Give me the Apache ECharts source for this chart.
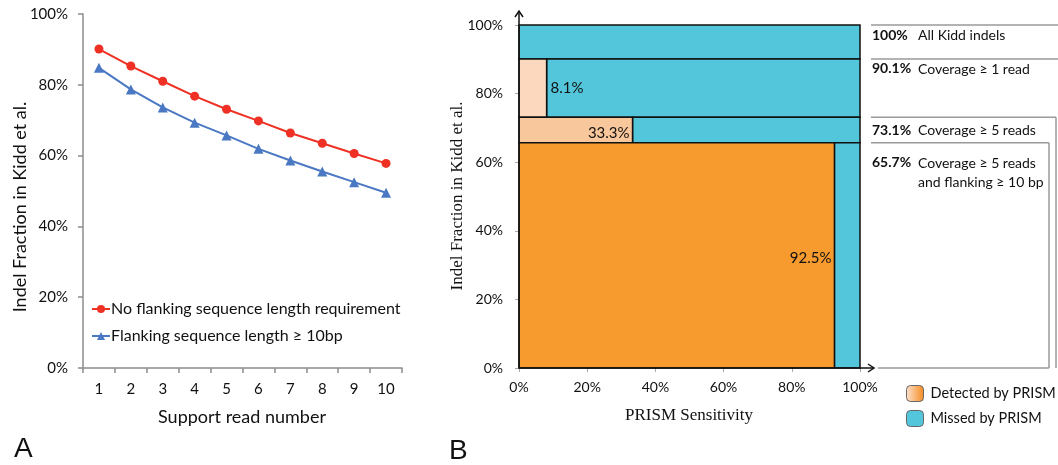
<!DOCTYPE html>
<html><head><meta charset="utf-8">
<script src="https://cdn.jsdelivr.net/npm/echarts@6/dist/echarts.min.js"></script>
<style>html,body{margin:0;padding:0;background:#fff}#c{width:1058px;height:465px}</style>
</head><body><div id="c"></div>
<script>
// ---- Panel A data ----
const readNumbers = ['1','2','3','4','5','6','7','8','9','10'];
const noFlanking = [90.1, 85.3, 81.0, 76.8, 73.1, 69.8, 66.4, 63.5, 60.6, 57.8];
const flanking10 = [84.8, 78.7, 73.6, 69.3, 65.7, 61.9, 58.6, 55.5, 52.5, 49.5];
const seriesNames = ['No flanking sequence length requirement', 'Flanking sequence length \u2265 10bp'];

// ---- Panel B data ----
const bandTop = [100, 90.1, 73.1, 65.7];
const bandBottom = [90.1, 73.1, 65.7, 0];
const sensitivity = [0, 8.1, 33.3, 92.5];
const sensLabels = ['', '8.1%', '33.3%', '92.5%'];
const setPct = ['100%', '90.1%', '73.1%', '65.7%'];
const setDesc = ['All Kidd indels', 'Coverage \u2265 1 read', 'Coverage \u2265 5 reads', 'Coverage \u2265 5 reads\nand flanking \u2265 10 bp'];
const legendNamesB = ['Detected by PRISM', 'Missed by PRISM'];

// ---- styles ----
const SANS = 'Lato, "Open Sans", sans-serif';
const SERIF = '"Liberation Serif", "DejaVu Serif", serif';
const CYAN = '#53C6DB';
const detectedFill = ['#FCD9BE', '#FCD9BE', '#F9C79C', '#F79B2E'];
const annGap = [10, 10, 13, 20];
const GRAY = '#9a9a9a';

const bandData = bandTop.map((t, i) => [sensitivity[i], t, bandBottom[i], i]);

const chart = echarts.init(document.getElementById('c'));

function detectedItem(params, api) {
  const s = api.value(0), t = api.value(1), b = api.value(2), i = api.value(3);
  const p0 = api.coord([0, t]), p1 = api.coord([s, b]);
  const children = [];
  if (s > 0) {
    children.push({type: 'rect', shape: {x: p0[0], y: p0[1], width: p1[0] - p0[0], height: p1[1] - p0[1]},
      style: {fill: detectedFill[i], stroke: '#111', lineWidth: 1.5}});
  }
  if (sensLabels[i]) {
    const w = p1[0] - p0[0];
    const inside = w > 60;
    children.push({type: 'text', x: inside ? p1[0] - 3 : p1[0] + 4, y: (p0[1] + p1[1]) / 2 + (inside ? 3 : 0),
      style: {text: sensLabels[i], fill: '#111', fontSize: 15, fontFamily: SANS,
        align: inside ? 'right' : 'left', verticalAlign: 'middle'}, z2: 10});
  }
  return {type: 'group', children};
}

function missedItem(params, api) {
  const s = api.value(0), t = api.value(1), b = api.value(2);
  const p0 = api.coord([s, t]), p1 = api.coord([100, b]);
  return {type: 'rect', shape: {x: p0[0], y: p0[1], width: p1[0] - p0[0], height: p1[1] - p0[1]},
    style: {fill: CYAN, stroke: '#111', lineWidth: 1.5}};
}

function frameItem(params, api) {
  const o = api.coord([0, 0]);
  const top = api.coord([0, 100]);
  const xR = api.coord([100, 0])[0];
  const W = api.getWidth();
  const ch = [];
  const ax = {stroke: '#111', lineWidth: 1.5, fill: null};
  ch.push({type: 'line', shape: {x1: o[0], y1: o[1], x2: o[0], y2: top[1] - 14}, style: ax});
  ch.push({type: 'polyline', shape: {points: [[o[0] - 4, top[1] - 8], [o[0], top[1] - 14], [o[0] + 4, top[1] - 8]]}, style: ax});
  ch.push({type: 'line', shape: {x1: o[0], y1: o[1], x2: xR + 14, y2: o[1]}, style: ax});
  ch.push({type: 'polyline', shape: {points: [[xR + 8, o[1] - 4], [xR + 14, o[1]], [xR + 8, o[1] + 4]]}, style: ax});
  const gs = {stroke: GRAY, lineWidth: 1.5, fill: null};
  bandTop.forEach((t, i) => {
    const y = api.coord([0, t])[1];
    let xEnd = W;
    if (i === 2) xEnd = W - 2;
    if (i === 3) xEnd = W - 9;
    ch.push({type: 'line', shape: {x1: xR + 11, y1: y, x2: xEnd, y2: y}, style: gs});
    if (i >= 2) ch.push({type: 'line', shape: {x1: xEnd, y1: y, x2: xEnd, y2: o[1]}, style: gs});
    const ty = y + annGap[i];
    ch.push({type: 'text', x: xR + 12, y: ty, style: {text: setPct[i], fill: '#111', fontSize: 14, fontWeight: 'bold', fontFamily: SANS, align: 'left', verticalAlign: 'middle'}});
    ch.push({type: 'text', x: xR + 58, y: ty - 9, style: {text: setDesc[i], fill: '#111', fontSize: 14, lineHeight: 19, fontFamily: SANS, align: 'left', verticalAlign: 'top'}});
  });
  ch.push({type: 'line', shape: {x1: xR + 18, y1: o[1], x2: W - 9, y2: o[1]}, style: gs});
  return {type: 'group', children: ch};
}

const detGrad = new echarts.graphic.LinearGradient(0, 0, 1, 0, [{offset: 0, color: '#FDE3CF'}, {offset: 1, color: '#F58A1F'}]);

const option = {
  animation: false,
  backgroundColor: '#fff',
  grid: [
    {left: 83, right: 656, top: 14, bottom: 97},
    {left: 519, right: 198, top: 25, bottom: 97}
  ],
  xAxis: [
    {gridIndex: 0, type: 'category', data: readNumbers, boundaryGap: true,
      axisLine: {show: true, lineStyle: {color: '#8c8c8c', width: 1.5}},
      axisTick: {show: true, length: 5, lineStyle: {color: '#8c8c8c', width: 1.5}},
      axisLabel: {margin: 14, fontSize: 15, color: '#111', fontFamily: SANS},
      splitLine: {show: false}},
    {gridIndex: 1, type: 'value', min: 0, max: 100, interval: 20,
      axisLine: {show: false}, splitLine: {show: false},
      axisTick: {show: true, length: 4, lineStyle: {color: '#aaa'}},
      axisLabel: {margin: 12, fontSize: 14, color: '#111', fontFamily: SANS, formatter: '{value}%'}}
  ],
  yAxis: [
    {gridIndex: 0, type: 'value', min: 0, max: 100, interval: 20,
      axisLine: {show: true, lineStyle: {color: '#8c8c8c', width: 1.5}},
      axisTick: {show: true, length: 5, lineStyle: {color: '#8c8c8c', width: 1.5}},
      axisLabel: {margin: 15, fontSize: 15, color: '#111', fontFamily: SANS, formatter: '{value}%'},
      splitLine: {show: false}},
    {gridIndex: 1, type: 'value', min: 0, max: 100, interval: 20,
      axisLine: {show: false}, splitLine: {show: false},
      axisTick: {show: true, length: 4, lineStyle: {color: '#aaa'}},
      axisLabel: {margin: 16, fontSize: 14, color: '#111', fontFamily: SANS, formatter: '{value}%'}}
  ],
  legend: [
    {left: 86, top: 296, orient: 'vertical', itemGap: 11, itemWidth: 18, itemHeight: 10,
      selectedMode: false, data: seriesNames,
      textStyle: {fontSize: 16, color: '#111', fontFamily: SANS, padding: [0, 0, 0, -4]}},
    {left: 901, top: 380, orient: 'vertical', itemGap: 8, itemWidth: 17, itemHeight: 16,
      selectedMode: false, icon: 'roundRect',
      data: [
        {name: legendNamesB[0], itemStyle: {color: detGrad, borderColor: '#666', borderWidth: 1}},
        {name: legendNamesB[1], itemStyle: {color: CYAN, borderColor: '#666', borderWidth: 1}}
      ],
      textStyle: {fontSize: 14.5, color: '#111', fontFamily: SANS, padding: [0, 0, 0, 2]}}
  ],
  series: [
    {name: seriesNames[0], type: 'line', xAxisIndex: 0, yAxisIndex: 0, data: noFlanking,
      symbol: 'circle', symbolSize: 9, color: '#EE3124', lineStyle: {width: 2}},
    {name: seriesNames[1], type: 'line', xAxisIndex: 0, yAxisIndex: 0, data: flanking10,
      symbol: 'triangle', symbolSize: 10, color: '#4A78C2', lineStyle: {width: 2}},
    {name: legendNamesB[0], type: 'custom', xAxisIndex: 1, yAxisIndex: 1, data: bandData,
      renderItem: detectedItem, itemStyle: {color: detGrad}, z: 3},
    {name: legendNamesB[1], type: 'custom', xAxisIndex: 1, yAxisIndex: 1, data: bandData,
      renderItem: missedItem, itemStyle: {color: CYAN}, z: 2},
    {name: 'frame', type: 'custom', xAxisIndex: 1, yAxisIndex: 1, data: [[0, 0]],
      renderItem: frameItem, silent: true, z: 5}
  ],
  graphic: [
    {type: 'text', x: 20, y: 207, rotation: Math.PI / 2,
      style: {text: 'Indel Fraction in Kidd et al.', fill: '#111', font: '18px ' + SANS, align: 'center', verticalAlign: 'middle', textAlign: 'center', textVerticalAlign: 'middle'}},
    {type: 'text', x: 242, y: 417,
      style: {text: 'Support read number', fill: '#111', font: '18px ' + SANS, align: 'center', verticalAlign: 'middle', textAlign: 'center', textVerticalAlign: 'middle'}},
    {type: 'text', x: 458, y: 196, rotation: Math.PI / 2,
      style: {text: 'Indel Fraction in Kidd et al.', fill: '#111', font: '17px ' + SERIF, align: 'center', verticalAlign: 'middle', textAlign: 'center', textVerticalAlign: 'middle'}},
    {type: 'text', x: 689, y: 416,
      style: {text: 'PRISM Sensitivity', fill: '#111', font: '17px ' + SERIF, align: 'center', verticalAlign: 'middle', textAlign: 'center', textVerticalAlign: 'middle'}},
    {type: 'text', x: 14, y: 449,
      style: {text: 'A', fill: '#111', font: '28px "Liberation Sans", Arial, sans-serif', align: 'left', verticalAlign: 'middle', textAlign: 'left', textVerticalAlign: 'middle'}},
    {type: 'text', x: 449, y: 451,
      style: {text: 'B', fill: '#111', font: '28px "Liberation Sans", Arial, sans-serif', align: 'left', verticalAlign: 'middle', textAlign: 'left', textVerticalAlign: 'middle'}}
  ]
};
chart.setOption(option);
</script>
</body></html>
